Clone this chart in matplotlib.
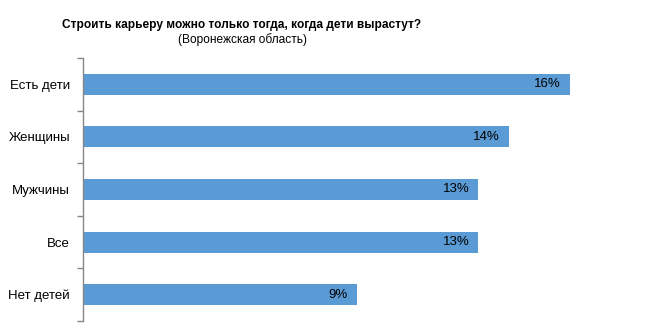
import matplotlib.pyplot as plt

plt.rcParams['font.family'] = ['Liberation Sans', 'DejaVu Sans']

categories = ["Есть дети", "Женщины", "Мужчины", "Все", "Нет детей"]
values = [16, 14, 13, 13, 9]
value_labels = ["16%", "14%", "13%", "13%", "9%"]

W, H = 646, 336
fig = plt.figure(figsize=(W / 100, H / 100), dpi=100)

# plot area in pixels: x 83..630, y 58..321
ax = fig.add_axes([83 / W, 1 - 321 / H, (630.6 - 83) / W, (321 - 58) / H])

pos = list(range(len(categories)))
ax.barh(pos, values, height=0.4, color="#5B9BD5", zorder=2)
ax.set_ylim(len(categories) - 0.5, -0.5)
ax.set_xlim(0, 18)

for p, v, lab in zip(pos, values, value_labels):
    ax.annotate(lab, (v, p), xytext=(-6.5, 0), textcoords="offset points",
                ha="right", va="center", fontsize=9.5, color="black")

# category separators as ticks on the left spine
ax.set_yticks([i - 0.5 for i in range(len(categories) + 1)], minor=False)
ax.set_yticklabels([])
ax.set_yticks(pos, minor=True)
ax.set_yticklabels(categories, minor=True, fontsize=9.5)
ax.tick_params(axis="y", which="major", length=4, width=1, color="#868686", direction="out")
ax.tick_params(axis="y", which="minor", length=0, pad=9.4)
ax.set_xticks([])

for side in ["top", "right", "bottom"]:
    ax.spines[side].set_visible(False)
ax.spines["left"].set_color("#868686")
ax.spines["left"].set_linewidth(1)

fig.text(242 / W, 1 - 25 / H, "Строить карьеру можно только тогда, когда дети вырастут?",
         ha="center", va="center", fontsize=8.6, fontweight="bold")
fig.text(242 / W, 1 - 40 / H, "(Воронежская область)",
         ha="center", va="center", fontsize=8.6)

fig.savefig("out.png", dpi=100, facecolor="white")
